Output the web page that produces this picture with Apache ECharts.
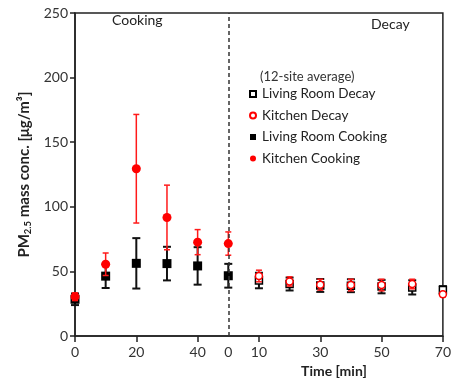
<!DOCTYPE html>
<html>
<head>
<meta charset="utf-8">
<script src="https://cdn.jsdelivr.net/npm/echarts@6/dist/echarts.min.js"></script>
<style>
  html, body { margin: 0; padding: 0; background: #fff; }
  #chart { width: 454px; height: 383px; }
</style>
</head>
<body>
<div id="chart"></div>
<script>
// cooking phase: minutes since start of cooking
const cookingTime = [0, 10, 20, 30, 40, 50];
const kitchenCookMean = [30.5, 55.6, 129.5, 91.8, 72.7, 71.6];
const kitchenCookErr = [3, 8.7, 42, 25, 9.7, 9];
const livingCookMean = [28.5, 46.4, 56.3, 56.1, 54.3, 46.7];
const livingCookErr = [4.5, 9.2, 19.5, 13, 14.5, 9.2];

// decay phase: minutes since end of cooking (drawn after the dashed line)
const decayTime = [10, 20, 30, 40, 50, 60, 70];
const kitchenDecayMean = [46.5, 42.3, 39.8, 39.5, 39.5, 40.3, 32.3];
const kitchenDecayErr = [4.5, 3.6, 4.2, 4.5, 4.5, 3.7, 2];
const livingDecayMean = [43, 40.3, 39.2, 39, 38.3, 37.7, 35.7];
const livingDecayErr = [6, 5, 5, 5, 5.2, 5.5, 3];

const cookingEnd = 50;

// x tick labels (axis positions -> shown text)
const xLabelValues = [0, 20, 40, 50, 60, 80, 100, 120];
const xLabelTexts = ['0', '20', '40', '0', '10', '30', '50', '70'];
const xTickValues = [0, 20, 40, 60, 80, 100, 120];

const FONT = 'Lato';
const decayX = decayTime.map(t => t + cookingEnd);

const pts = (xs, ys) => xs.map((x, i) => [x, ys[i]]);

function errorBars(xs, means, errs, color, cap, width, z) {
  return {
    type: 'custom',
    silent: true,
    z: z,
    data: xs.map((x, i) => [x, means[i] - errs[i], means[i] + errs[i]]),
    renderItem: (params, api) => {
      const x = api.value(0);
      const lo = api.coord([x, api.value(1)]);
      const hi = api.coord([x, api.value(2)]);
      const h = cap / 2;
      const style = { stroke: color, lineWidth: width };
      return {
        type: 'group',
        children: [
          { type: 'line', shape: { x1: lo[0], y1: lo[1], x2: hi[0], y2: hi[1] }, style },
          { type: 'line', shape: { x1: hi[0] - h, y1: hi[1], x2: hi[0] + h, y2: hi[1] }, style },
          { type: 'line', shape: { x1: lo[0] - h, y1: lo[1], x2: lo[0] + h, y2: lo[1] }, style }
        ]
      };
    }
  };
}

const chart = echarts.init(document.getElementById('chart'));

chart.setOption({
  animation: false,
  backgroundColor: '#fff',
  textStyle: { fontFamily: FONT },
  grid: {
    left: 75, right: 11, top: 13, bottom: 43,
    show: true, borderColor: '#222', borderWidth: 1.5
  },
  title: {
    text: '(12-site average)',
    left: 255, top: 65,
    textStyle: { fontFamily: FONT, fontSize: 13, fontWeight: 'normal', color: '#333' }
  },
  graphic: [
    { type: 'text', left: 112, top: 13, style: { text: 'Cooking', font: '14px Lato', fill: '#222' } },
    { type: 'text', left: 371, top: 17, style: { text: 'Decay', font: '14px Lato', fill: '#222' } }
  ],
  legend: {
    data: ['Living Room Decay', 'Kitchen Decay', 'Living Room Cooking', 'Kitchen Cooking'],
    orient: 'vertical',
    left: 244, top: 81,
    itemWidth: 6, itemHeight: 6, itemGap: 5.5,
    textStyle: { fontFamily: FONT, fontSize: 13.5, color: '#222', padding: [0, 0, 0, 1], lineHeight: 16 }
  },
  xAxis: {
    type: 'value',
    min: 0, max: 120, interval: 20,
    name: 'Time [min]',
    nameLocation: 'middle',
    nameGap: 27,
    nameTextStyle: { fontFamily: FONT, fontSize: 14, fontWeight: 'bold', color: '#222', padding: [0, 0, 0, 150] },
    axisLine: { lineStyle: { color: '#222', width: 1.5 } },
    axisTick: { customValues: xTickValues, length: 6, lineStyle: { color: '#222', width: 1.5 } },
    axisLabel: {
      customValues: xLabelValues,
      margin: 9,
      fontFamily: FONT, fontSize: 14, color: '#333',
      formatter: v => xLabelTexts[xLabelValues.indexOf(v)] ?? ''
    },
    splitLine: { show: false }
  },
  yAxis: {
    type: 'value',
    min: 0, max: 250, interval: 50,
    name: '{b|PM}{s|2.5}{b| mass conc. [μg/m³]}',
    nameLocation: 'middle',
    nameGap: 40,
    nameTextStyle: {
      rich: {
        b: { fontFamily: FONT, fontSize: 15, fontWeight: 'bold', color: '#222', lineHeight: 18 },
        s: { fontFamily: FONT, fontSize: 9.5, fontWeight: 'bold', color: '#222', lineHeight: 18, verticalAlign: 'bottom', padding: [6, 0, 0, 0] }
      }
    },
    axisLine: { show: true, lineStyle: { color: '#222', width: 1.5 } },
    axisTick: { show: true, length: 5, lineStyle: { color: '#222', width: 1.5 } },
    axisLabel: { margin: 7, fontFamily: FONT, fontSize: 14, color: '#333' },
    splitLine: { show: false }
  },
  series: [
    errorBars(cookingTime, livingCookMean, livingCookErr, '#111', 8, 2, 2),
    errorBars(decayX, livingDecayMean, livingDecayErr, '#111', 8, 2, 2),
    {
      name: 'Living Room Cooking',
      type: 'scatter',
      z: 3,
      symbol: 'rect',
      symbolSize: 9,
      itemStyle: { color: '#000', opacity: 1 },
      data: pts(cookingTime, livingCookMean),
      markLine: {
        silent: true,
        symbol: 'none',
        label: { show: false },
        lineStyle: { color: '#333', width: 1.5, type: [4, 3] },
        data: [{ xAxis: cookingEnd }]
      }
    },
    {
      name: 'Living Room Decay',
      type: 'scatter',
      z: 3,
      symbol: 'rect',
      symbolSize: 7,
      itemStyle: { color: '#fff', borderColor: '#000', borderWidth: 1.5, opacity: 1 },
      data: pts(decayX, livingDecayMean)
    },
    errorBars(cookingTime, kitchenCookMean, kitchenCookErr, '#ff1a1a', 6, 1.5, 4),
    errorBars(decayX, kitchenDecayMean, kitchenDecayErr, '#ff1a1a', 6, 1.5, 4),
    {
      name: 'Kitchen Cooking',
      type: 'scatter',
      z: 5,
      symbol: 'circle',
      symbolSize: 9,
      itemStyle: { color: '#ff0000', opacity: 1 },
      data: pts(cookingTime, kitchenCookMean)
    },
    {
      name: 'Kitchen Decay',
      type: 'scatter',
      z: 5,
      symbol: 'circle',
      symbolSize: 7,
      itemStyle: { color: '#fff', borderColor: '#ff0000', borderWidth: 1.5, opacity: 1 },
      data: pts(decayX, kitchenDecayMean)
    }
  ]
});
</script>
</body>
</html>
